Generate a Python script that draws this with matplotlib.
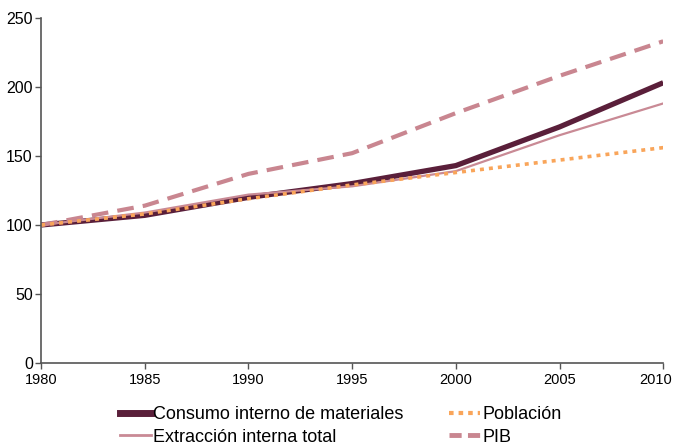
import matplotlib.pyplot as plt
import matplotlib.transforms as mtransforms
from matplotlib.lines import Line2D

plt.rcParams['font.family'] = ['Liberation Sans', 'DejaVu Sans']

years = [1980, 1985, 1990, 1995, 2000, 2005, 2010]
consumo = [100, 107, 120, 130, 143, 171, 203]
extraccion = [100, 109, 122, 128, 139, 165, 188]
poblacion = [100, 108, 119, 129, 138, 147, 156]
pib = [100, 114, 137, 152, 181, 208, 233]

c_consumo = '#5a1f3a'
c_extr = '#c98a95'
c_pib = '#c98690'
c_pob = '#f9a55a'

fig = plt.figure(figsize=(6.74, 4.45), dpi=100)
ax = fig.add_axes([0.061, 0.184, 0.923, 0.776])

ax.plot(years, consumo, color=c_consumo, lw=3.8, solid_capstyle='butt')
ax.plot(years, extraccion, color=c_extr, lw=1.6)
ax.plot(years, pib, color=c_pib, lw=3.0, dashes=(4, 2.2))
ax.plot(years, poblacion, color=c_pob, lw=2.6, dashes=(1.1, 1.4))

ax.set_xlim(1980, 2010)
ax.set_ylim(0, 250)
ax.set_xticks(years)
ax.set_yticks(range(0, 251, 50))
for s in ['top', 'right']:
    ax.spines[s].set_visible(False)
for s in ['left', 'bottom']:
    ax.spines[s].set_color('#555555')
    ax.spines[s].set_linewidth(1.2)
ax.tick_params(axis='both', colors='#555555', labelcolor='black',
               length=4, width=1.0, pad=3)
ax.tick_params(axis='y', labelsize=11.5, pad=2)
ax.tick_params(axis='x', labelsize=10.5)

# last year label shifted left so it stays inside the figure
fig.canvas.draw()
lbl = ax.get_xticklabels()[-1]
lbl.set_transform(lbl.get_transform() + mtransforms.ScaledTranslation(-8 / 100, 0, fig.dpi_scale_trans))

handles = [
    Line2D([], [], color=c_consumo, lw=5),
    Line2D([], [], color=c_extr, lw=2),
    Line2D([], [], color=c_pob, lw=3, dashes=(1.1, 1.2)),
    Line2D([], [], color=c_pib, lw=3.5, dashes=(2.5, 1.3)),
]
labels = ['Consumo interno de materiales', 'Extracción interna total', 'Población', 'PIB']
fig.legend(handles, labels, ncol=2, loc='upper left', bbox_to_anchor=(0.178, 0.087),
           frameon=False, fontsize=13, handlelength=1.7, handletextpad=0.15,
           columnspacing=2.5, labelspacing=0.3, borderpad=0, borderaxespad=0)

fig.savefig('out.png', dpi=100)
